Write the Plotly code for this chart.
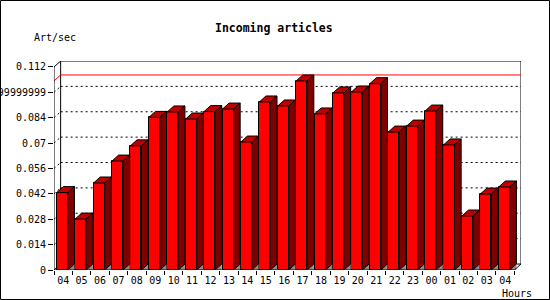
import plotly.graph_objects as go

# ---- data ----
hours = ["04", "05", "06", "07", "08", "09", "10", "11", "12", "13", "14", "15",
         "16", "17", "18", "19", "20", "21", "22", "23", "00", "01", "02", "03", "04"]
rates = [0.0427, 0.0281, 0.0480, 0.0601, 0.0685, 0.0842, 0.0872, 0.0833, 0.0874,
         0.0888, 0.0706, 0.0927, 0.0905, 0.1043, 0.0861, 0.0977, 0.0982, 0.1028,
         0.0761, 0.0794, 0.0877, 0.0690, 0.0298, 0.0419, 0.0458]
ytick_vals = [0, 0.014, 0.028, 0.042, 0.056, 0.07, 0.084, 0.098, 0.112]
ytick_text = ["0", "0.014", "0.028", "0.042", "0.056", "0.07", "0.084",
              "0.09799999999999999", "0.112"]
title_text = "Incoming articles"
y_title = "Art/sec"
x_title = "Hours"

# ---- geometry / style ----
W, H = 550, 300
ML, MR, MT, MB = 54, 29, 61, 30
DX = 0.36       # depth (category units)
DY = 0.0033     # depth (value units)
BAR_OFF = -0.35
BAR_W = 0.6
YMAX = ytick_vals[-1]
FRONT = "#ff0000"
TOP = "#c00000"
SIDE = "#800000"
FLOOR = "#8c8c8c"
FONT = "DejaVu Sans Mono"

n = len(rates)
idx = list(range(n))
xmin, xmax = -0.5, n - 0.5
pw, ph = W - ML - MR, H - MT - MB


def px(x):
    return (x - ML) / pw


def py(y):
    return (H - MB - y) / ph


fig = go.Figure()
fig.add_trace(go.Bar(
    x=idx, y=rates, width=BAR_W, offset=BAR_OFF,
    marker=dict(color=FRONT, line=dict(color="black", width=1)),
    hoverinfo="skip", showlegend=False,
))

shapes = []
line_k = dict(color="black", width=1)
# dotted grid on back wall + side wall diagonals
for v in ytick_vals[1:-1]:
    shapes.append(dict(type="line", xref="x", yref="y", layer="below",
                       x0=xmin + DX, x1=xmax + DX, y0=v + DY, y1=v + DY,
                       line=dict(color="black", width=1, dash="2px,3px")))
    shapes.append(dict(type="line", xref="x", yref="y", layer="below",
                       x0=xmin, x1=xmin + DX, y0=v, y1=v + DY,
                       line=dict(color="black", width=1, dash="2px,3px")))
# back wall frame
shapes.append(dict(type="path", xref="x", yref="y", layer="below",
                   path=f"M{xmin+DX},{DY} L{xmin+DX},{YMAX+DY} L{xmax+DX},{YMAX+DY} L{xmax+DX},{DY} Z",
                   line=line_k))
shapes.append(dict(type="line", xref="x", yref="y", layer="below",
                   x0=xmin, x1=xmin + DX, y0=YMAX, y1=YMAX + DY, line=line_k))
shapes.append(dict(type="line", xref="x", yref="y", layer="below",
                   x0=xmin, x1=xmin + DX, y0=0, y1=DY, line=line_k))
# max line
vmax = max(rates)
shapes.append(dict(type="line", xref="x", yref="y", layer="below",
                   x0=xmin + DX, x1=xmax + DX, y0=vmax + DY, y1=vmax + DY,
                   line=dict(color="red", width=1)))
shapes.append(dict(type="line", xref="x", yref="y", layer="below",
                   x0=xmin, x1=xmin + DX, y0=vmax, y1=vmax + DY,
                   line=dict(color="red", width=1)))

# 3D faces of bars
for i, v in zip(idx, rates):
    x0 = i + BAR_OFF
    x1 = x0 + BAR_W
    shapes.append(dict(type="path", xref="x", yref="y", layer="above",
                       path=f"M{x1},0 L{x1+DX},{DY} L{x1+DX},0 Z",
                       fillcolor=FLOOR, line=dict(width=0)))
    shapes.append(dict(type="path", xref="x", yref="y", layer="above",
                       path=f"M{x0},{v} L{x1},{v} L{x1+DX},{v+DY} L{x0+DX},{v+DY} Z",
                       fillcolor=TOP, line=line_k))
    shapes.append(dict(type="path", xref="x", yref="y", layer="above",
                       path=f"M{x1},{v} L{x1+DX},{v+DY} L{x1+DX},{DY} L{x1},0 Z",
                       fillcolor=SIDE, line=line_k))

# front axes lines
shapes.append(dict(type="line", xref="x", yref="y", layer="above",
                   x0=xmin, x1=xmin, y0=0, y1=YMAX, line=line_k))
shapes.append(dict(type="line", xref="x", yref="y", layer="above",
                   x0=xmin, x1=xmax, y0=0, y1=0, line=line_k))
shapes.append(dict(type="line", xref="x", yref="y", layer="above",
                   x0=xmax, x1=xmax + DX, y0=0, y1=DY, line=line_k))
# outer border
shapes.append(dict(type="rect", xref="paper", yref="paper",
                   x0=px(0.5), x1=px(W - 0.5), y0=py(H - 0.5), y1=py(0.5),
                   line=dict(color="black", width=1)))

annotations = [
    dict(text=f"<b>{title_text}</b>", xref="paper", yref="paper", x=px(274), y=py(27.5),
         xanchor="center", yanchor="middle", showarrow=False,
         font=dict(family=FONT, size=11.5, color="black")),
    dict(text=y_title, xref="paper", yref="paper", x=px(32), y=py(37),
         xanchor="left", yanchor="middle", showarrow=False,
         font=dict(family=FONT, size=10, color="black")),
    dict(text=x_title, xref="paper", yref="paper", x=px(534), y=py(293),
         xanchor="right", yanchor="middle", showarrow=False,
         font=dict(family=FONT, size=10, color="black")),
]

fig.update_layout(
    width=W, height=H, template="none",
    margin=dict(l=ML, r=MR, t=MT, b=MB, pad=0),
    paper_bgcolor="white", plot_bgcolor="white",
    showlegend=False, bargap=0,
    shapes=shapes, annotations=annotations,
    xaxis=dict(range=[xmin, xmax + DX], showgrid=False, zeroline=False, showline=False,
               tickvals=idx, ticktext=hours, ticks="outside", ticklen=1,
               tickcolor="rgba(0,0,0,0)", automargin=False,
               tickfont=dict(family=FONT, size=10, color="black"),
               minor=dict(tickvals=[i - 0.5 for i in range(n + 1)], ticks="outside",
                          ticklen=4, tickcolor="black", showgrid=False)),
    yaxis=dict(range=[0, YMAX + DY], showgrid=False, zeroline=False, showline=False,
               tickvals=ytick_vals, ticktext=ytick_text, ticks="outside", ticklen=5,
               tickcolor="black", automargin=False,
               tickfont=dict(family=FONT, size=10, color="black")),
)

fig.write_html("out.html")
